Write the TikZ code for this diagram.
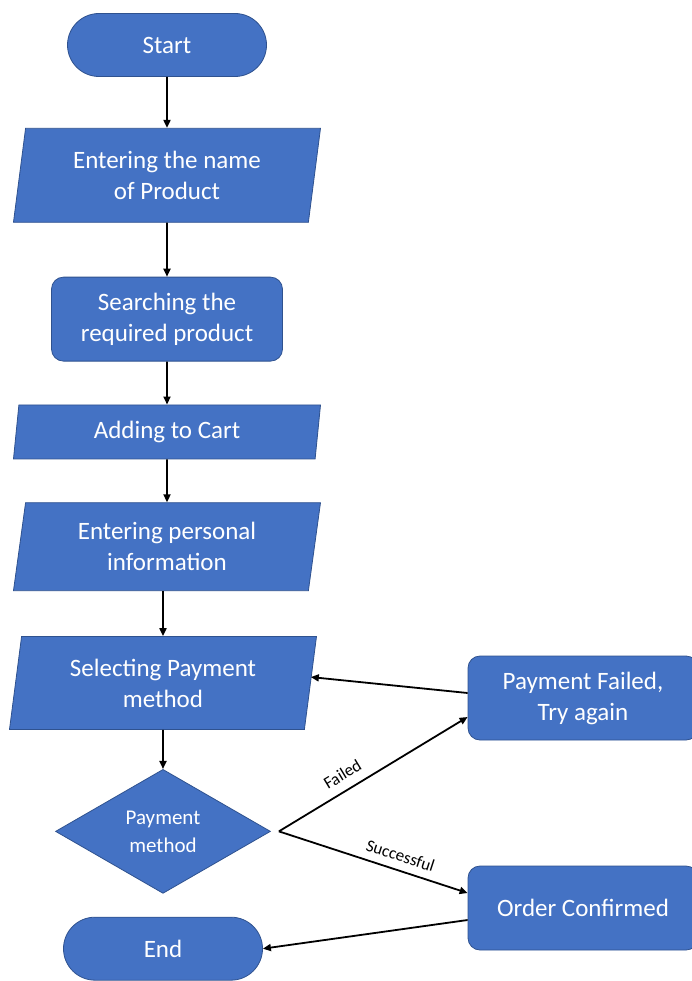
\documentclass[tikz,border=0pt]{standalone}
\usepackage{fontspec}
\setmainfont{Carlito}
\usetikzlibrary{positioning,shapes.geometric,shapes.misc,arrows.meta}
\definecolor{boxblue}{HTML}{4472C4}
\definecolor{rimblue}{HTML}{2F528F}
\tikzset{
  shapebox/.style={draw=rimblue, line width=0.8pt, fill=boxblue, text=white,
    align=center, inner sep=0pt, font=\fontsize{25}{31}\selectfont},
  startstop/.style={shapebox, rounded rectangle, minimum width=199pt, minimum height=63pt},
  process/.style={shapebox, rectangle, rounded corners=12pt, minimum width=231pt, minimum height=84pt},
  inout/.style={shapebox, trapezium, trapezium left angle=76, trapezium right angle=104,
    trapezium stretches body, minimum width=307pt},
  decision/.style={shapebox, diamond, minimum width=215pt, minimum height=124pt,
    font=\fontsize{21}{28}\selectfont},
  flowline/.style={line width=1.8pt, -{Triangle[length=8pt,width=7pt]}},
  edgelabel/.style={font=\fontsize{17}{17}\selectfont, text=black, inner sep=0pt}
}

\begin{document}
\begin{tikzpicture}[x=1pt, y=-1pt]
  \useasboundingbox (0,0) rectangle (691,981);
  \node[startstop] (start) at (167,45) {Start};
  \node[inout, minimum height=94pt, below=51pt of start] (name) {Entering the name\\of Product};
  \node[process, below=54pt of name] (search) {Searching the\\required product};
  \node[inout, minimum height=54pt, below=43pt of search] (cart) {Adding to Cart};
  \node[inout, minimum height=88pt, below=43pt of cart] (info) {Entering personal\\information};
  \node[inout, minimum height=93pt, below=45pt of info, xshift=-4pt] (select) {Selecting Payment\\method};
  \node[decision, below=39pt of select] (pay) {Payment\\method};
  \node[startstop, below=23pt of pay] (stop) {End};
  \node[process, minimum width=230pt] (fail) at (583,698) {Payment Failed,\\Try again};
  \node[process, minimum width=230pt] (done) at (583,908) {Order Confirmed};
  \coordinate (fork) at ([xshift=8pt]pay.east);

  \draw[flowline] (start) -- (name);
  \draw[flowline] (name) -- (search);
  \draw[flowline] (search) -- (cart);
  \draw[flowline] (cart) -- (info);
  \draw[flowline] (info.south -| select.north) -- (select.north);
  \draw[flowline] (select) -- (pay);
  \draw[flowline] (fork) -- node[edgelabel, sloped, above=9pt, pos=0.38] {Failed} ([yshift=-19pt]fail.west);
  \draw[flowline] (fork) -- node[edgelabel, sloped, above=8pt, pos=0.62] {Successful} ([yshift=15pt]done.west);
  \draw[flowline] ([yshift=5pt]fail.west) -- ([yshift=6pt]select.east);
  \draw[flowline] ([yshift=-12pt]done.west) -- (stop.east);
\end{tikzpicture}
\end{document}
